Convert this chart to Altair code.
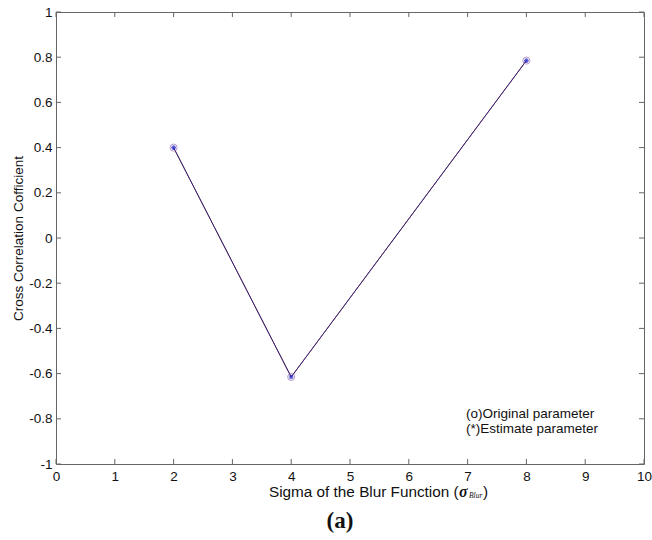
import altair as alt
import pandas as pd

sigma = [2, 4, 8]
original = [0.40, -0.615, 0.785]
estimate = [0.40, -0.615, 0.785]
x_ticks = [0, 1, 2, 3, 4, 5, 6, 7, 8, 9, 10]
y_ticks = [-1, -0.8, -0.6, -0.4, -0.2, 0, 0.2, 0.4, 0.6, 0.8, 1]

W, H = 588, 452
FONT = "Liberation Sans"
FS = 13.5

df = pd.DataFrame({"sigma": sigma, "original": original, "estimate": estimate})
xt = pd.DataFrame({"v": x_ticks})
yt = pd.DataFrame({"v": y_ticks})

xscale = alt.Scale(domain=[0, 10], nice=False, zero=False)
yscale = alt.Scale(domain=[-1, 1], nice=False, zero=False)

xaxis = alt.Axis(values=x_ticks, title=None, grid=False, domain=False, ticks=False,
                 labelFont=FONT, labelFontSize=FS, labelColor="#111", labelPadding=5,
                 labelFlush=False, labelOverlap=False,
                 labelExpr="format(datum.value, 'd')")
yaxis = alt.Axis(values=y_ticks, title="Cross Correlation Cofficient", grid=False, domain=False,
                 ticks=False, labelFont=FONT, labelFontSize=FS, labelColor="#111", labelPadding=4,
                 labelFlush=False, labelOverlap=False,
                 labelExpr="replace(datum.value == 0 ? '0' : format(datum.value, '.1~f'), '\u2212', '-')",
                 titleFont=FONT, titleFontSize=FS, titleFontWeight="normal", titleColor="#111",
                 titleX=-38, titleY=H / 2, titleAngle=270, titleAlign="center", titleBaseline="middle")

base = alt.Chart(df)

line_black = base.mark_line(color="black", strokeWidth=1).encode(
    x=alt.X("sigma:Q", scale=xscale, axis=xaxis),
    y=alt.Y("original:Q", scale=yscale, axis=yaxis),
)
line_blue = base.mark_line(color="#7a30d0", strokeWidth=0.9, opacity=0.6).encode(
    x=alt.X("sigma:Q", scale=xscale),
    y=alt.Y("estimate:Q", scale=yscale),
)
circles = base.mark_point(shape="circle", filled=False, color="#9a70b8", size=50, strokeWidth=1).encode(
    x=alt.X("sigma:Q", scale=xscale),
    y=alt.Y("original:Q", scale=yscale),
)
stars = base.mark_point(
    shape="M-1,0L1,0M0,-1L0,1M-0.7,-0.7L0.7,0.7M-0.7,0.7L0.7,-0.7",
    filled=False, color="#1c1cc8", size=22, strokeWidth=1.2,
).encode(
    x=alt.X("sigma:Q", scale=xscale),
    y=alt.Y("estimate:Q", scale=yscale),
)

tick_color = "#666"
xt_bottom = alt.Chart(xt).mark_rule(color=tick_color, strokeWidth=1).encode(
    x=alt.X("v:Q", scale=xscale), y=alt.value(H), y2=alt.value(H - 5))
xt_top = alt.Chart(xt).mark_rule(color=tick_color, strokeWidth=1).encode(
    x=alt.X("v:Q", scale=xscale), y=alt.value(0), y2=alt.value(5))
yt_left = alt.Chart(yt).mark_rule(color=tick_color, strokeWidth=1).encode(
    y=alt.Y("v:Q", scale=yscale), x=alt.value(0), x2=alt.value(5))
yt_right = alt.Chart(yt).mark_rule(color=tick_color, strokeWidth=1).encode(
    y=alt.Y("v:Q", scale=yscale), x=alt.value(W), x2=alt.value(W - 5))

def label(text, x, y, size=FS, font=FONT, weight="normal", style="normal", align="left"):
    return alt.Chart(pd.DataFrame({"t": [text]})).mark_text(
        font=font, fontSize=size, fontWeight=weight, fontStyle=style, align=align,
        baseline="middle", color="#111"
    ).encode(text="t:N", x=alt.value(x), y=alt.value(y))

legend1 = label("(o)Original parameter", 410, 402)
legend2 = label("(*)Estimate parameter", 410, 417)

xtitle = label("Sigma of the Blur Function (", 213, 480, size=15.3)
xsig = label("σ", 403, 480, size=16, font="Liberation Serif", weight="bold", style="italic")
xsub = label("Blur", 413, 484, size=7.5, font="Liberation Serif", style="italic")
xclose = label(")", 427, 480, size=15.3)
panel = label("(a)", 284, 509, size=23, font="Liberation Serif", weight="bold", align="center")

chart = alt.layer(
    line_black, line_blue, circles, stars,
    xt_bottom, xt_top, yt_left, yt_right,
    legend1, legend2, xtitle, xsig, xsub, xclose, panel,
).properties(
    width=W, height=H,
    autosize=alt.AutoSizeParams(type="none"),
    padding={"left": 56, "top": 12, "right": 8, "bottom": 76},
    background="white",
).configure_view(stroke="#666", strokeWidth=1)

chart.save("out.html", embed_options={"renderer": "svg", "actions": False})
